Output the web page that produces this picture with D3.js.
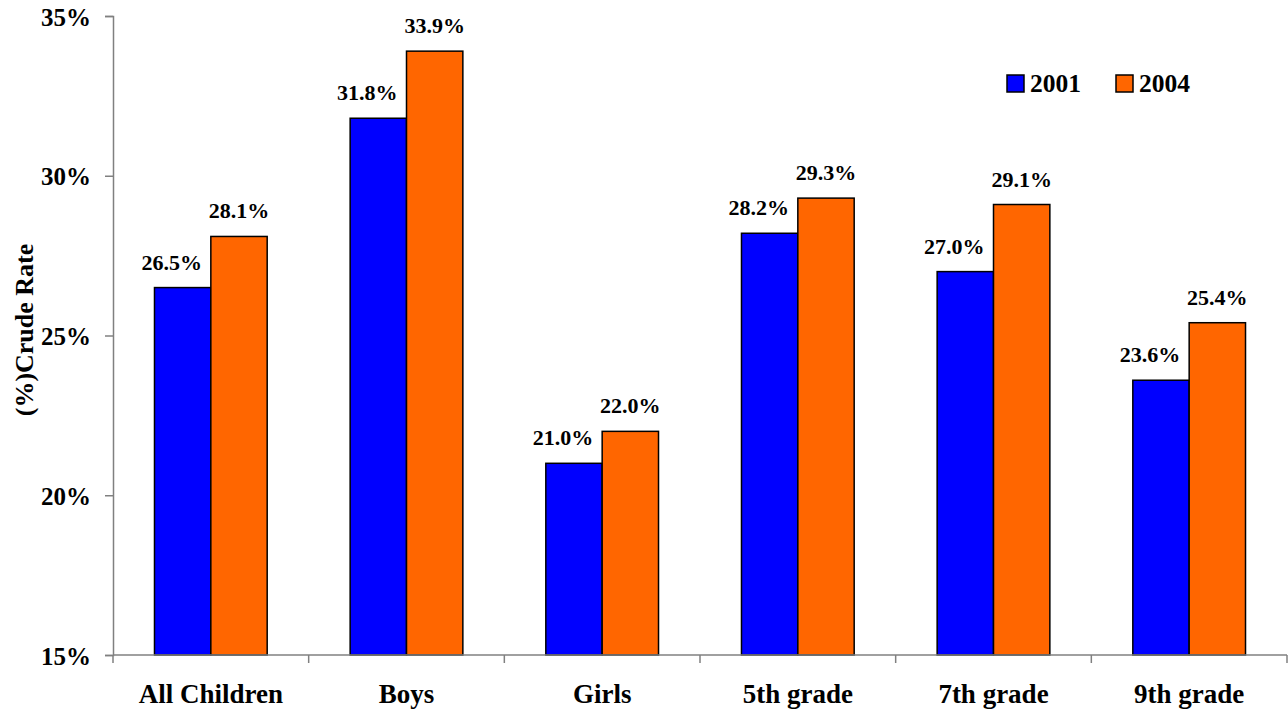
<!DOCTYPE html>
<html>
<head>
<meta charset="utf-8">
<script src="https://cdn.jsdelivr.net/npm/d3@7"></script>
<style>
  html, body { margin: 0; padding: 0; background: #fff; }
  svg { display: block; }
</style>
</head>
<body>
<svg id="chart" width="1288" height="715"></svg>
<script>
const categories = ["All Children", "Boys", "Girls", "5th grade", "7th grade", "9th grade"];
const seriesNames = ["2001", "2004"];
const values2001 = [26.5, 31.8, 21.0, 28.2, 27.0, 23.6];
const values2004 = [28.1, 33.9, 22.0, 29.3, 29.1, 25.4];
const colors = ["#0000FF", "#FF6600"];
const yTicks = [15, 20, 25, 30, 35];
const yTitle = "(%)Crude Rate";

(function () {
const FONT = "'Liberation Serif', 'Times New Roman', serif";
const svg = d3.select("#chart");
const mLeft = 113, mRight = 1287, mTop = 16, mBottom = 655;
const labelShift = [-11, 0];

function styleText(sel, size) {
  return sel.style("font-family", FONT).style("font-weight", "bold").style("font-size", size + "px").attr("fill", "#000");
}

const x = d3.scaleBand().domain(categories).range([mLeft, mRight]).paddingInner(0.424).paddingOuter(0.212);
const xs = d3.scaleBand().domain(seriesNames).range([0, x.bandwidth()]);
const y = d3.scaleLinear().domain([15, 35]).range([mBottom, mTop]);

const series = [values2001, values2004];

// bars
series.forEach((vals, si) => {
  svg.append("g").selectAll("rect").data(vals).join("rect")
    .attr("x", (d, i) => x(categories[i]) + xs(seriesNames[si]))
    .attr("y", d => y(d))
    .attr("width", xs.bandwidth())
    .attr("height", d => y(15) - y(d))
    .attr("fill", colors[si])
    .attr("stroke", "#000")
    .attr("stroke-width", 1.5);
});
series.forEach((vals, si) => {
  styleText(svg.append("g").selectAll("text").data(vals).join("text")
    .attr("x", (d, i) => x(categories[i]) + xs(seriesNames[si]) + xs.bandwidth() / 2 + labelShift[si])
    .attr("y", d => y(d) - 18)
    .attr("text-anchor", "middle")
    .text(d => d.toFixed(1) + "%"), 22);
});

// y axis
const yAxis = svg.append("g").attr("transform", `translate(${mLeft},0)`)
  .call(d3.axisLeft(y).tickValues(yTicks).tickSize(8).tickPadding(14).tickFormat(d => d + "%"));
yAxis.select(".domain").attr("stroke", "#808080").attr("stroke-width", 1.5);
yAxis.selectAll(".tick line").attr("stroke", "#808080").attr("stroke-width", 1.5);
styleText(yAxis.selectAll(".tick text"), 25).attr("dy", "0.36em");

// x axis
const xEdge = d3.scaleLinear().domain([0, categories.length]).range([mLeft, mRight]);
const xAxis = svg.append("g").attr("transform", `translate(0,${mBottom})`);
xAxis.append("line").attr("x1", mLeft).attr("x2", mRight).attr("y1", 0).attr("y2", 0)
  .attr("stroke", "#808080").attr("stroke-width", 1.5);
xAxis.selectAll("line.tk").data(d3.range(categories.length + 1)).join("line")
  .attr("class", "tk")
  .attr("x1", d => xEdge(d)).attr("x2", d => xEdge(d))
  .attr("y1", 0).attr("y2", 8)
  .attr("stroke", "#808080").attr("stroke-width", 1.5);
styleText(xAxis.selectAll("text").data(categories).join("text")
  .attr("x", d => x(d) + x.bandwidth() / 2)
  .attr("y", 48)
  .attr("text-anchor", "middle")
  .text(d => d), 27);

// y title
styleText(svg.append("text")
  .attr("transform", "translate(33,330) rotate(-90)")
  .attr("text-anchor", "middle")
  .text(yTitle), 26);

// legend
const legendX = [1007, 1116];
seriesNames.forEach((s, i) => {
  svg.append("rect").attr("x", legendX[i]).attr("y", 75).attr("width", 17).attr("height", 17)
    .attr("fill", colors[i]).attr("stroke", "#000").attr("stroke-width", 1.5);
  styleText(svg.append("text").attr("x", legendX[i] + 23).attr("y", 92).text(s), 25.5);
});
})();
</script>
</body>
</html>
